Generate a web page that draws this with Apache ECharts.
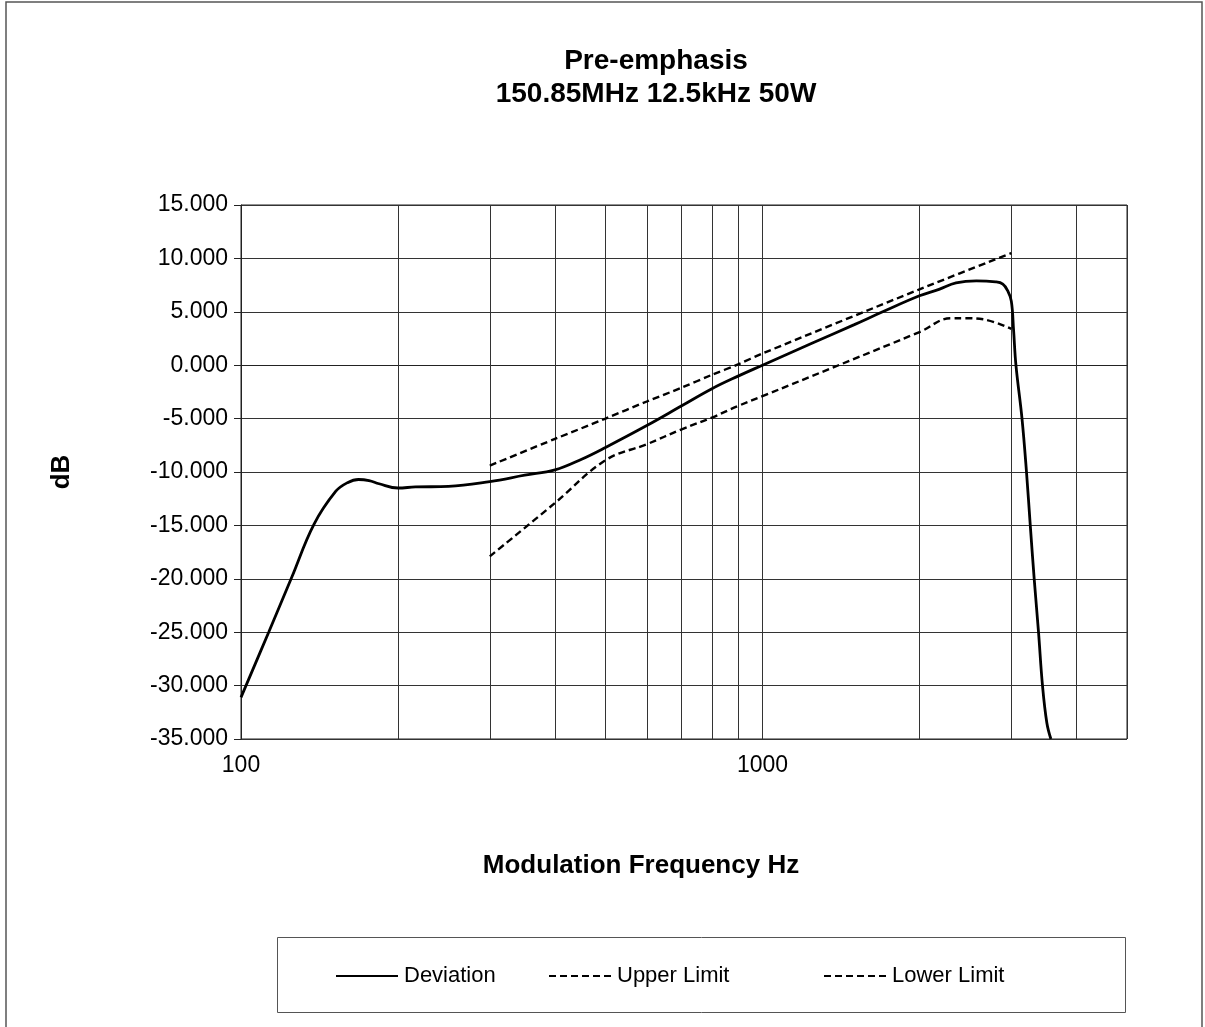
<!DOCTYPE html>
<html>
<head>
<meta charset="utf-8">
<script src="https://cdn.jsdelivr.net/npm/echarts@6/dist/echarts.min.js"></script>
<style>
html,body{margin:0;padding:0;background:#fff;}
#chart{width:1205px;height:1027px;}
</style>
</head>
<body>
<div id="chart"></div>
<script>
// ---- data ----
const titleLines = ['Pre-emphasis', '150.85MHz 12.5kHz 50W'];
const xName = 'Modulation Frequency Hz';
const yName = 'dB';
const seriesNames = ['Deviation', 'Upper Limit', 'Lower Limit'];

const deviationFreq = [100, 113, 125, 138, 152, 160, 168, 176, 184, 200, 216, 250, 300, 350, 400, 450, 500, 600, 700, 800, 900, 1000, 1250, 1500, 1700, 2000, 2180, 2350, 2570, 2800, 2890, 2950, 3000, 3030, 3062, 3145, 3208, 3262, 3319, 3383, 3443, 3510, 3573];
const deviationDb   = [-31.1, -25.0, -19.9, -14.9, -11.8, -11.0, -10.7, -10.8, -11.1, -11.5, -11.4, -11.35, -10.9, -10.3, -9.8, -8.8, -7.7, -5.65, -3.8, -2.2, -1.0, 0.0, 2.1, 3.8, 5.0, 6.5, 7.1, 7.7, 7.9, 7.8, 7.6, 7.0, 6.0, 3.3, 0.0, -5.0, -10.0, -15.0, -20.0, -25.0, -30.0, -33.5, -35.0];

const upperFreq = [300, 400, 500, 600, 700, 800, 900, 1000, 2000, 3000];
const upperDb   = [-9.4, -6.9, -5.0, -3.4, -2.1, -0.9, 0.1, 1.1, 7.1, 10.5];

const lowerFreq = [300, 400, 500, 600, 700, 800, 900, 1000, 2000, 2300, 2450, 2650, 3000];
const lowerDb   = [-17.9, -12.9, -8.9, -7.4, -6.0, -4.9, -3.8, -2.9, 3.1, 4.4, 4.4, 4.3, 3.4];

const xTickLabels = [100, 1000];
const xGridLines = [200, 300, 400, 500, 600, 700, 800, 900, 2000, 3000, 4000];
const yMin = -35, yMax = 15, yStep = 5;
const xMin = 100, xMax = 5000;

function pairs(xs, ys) { return xs.map((x, i) => [x, ys[i]]); }

const chart = echarts.init(document.getElementById('chart'));
const FONT = '"Liberation Sans", Arial, sans-serif';
const dashed = [7, 4];

function legendItem(name, left) {
  return {
    data: [name], left: left, top: 965, padding: 0,
    itemWidth: 62, itemHeight: 14, itemGap: 0,
    itemStyle: { opacity: 0, borderWidth: 0 },
    lineStyle: { width: 2 },
    textStyle: { fontFamily: FONT, fontSize: 22, color: '#000', padding: [0, 0, 0, 1] }
  };
}

chart.setOption({
  animation: false,
  backgroundColor: '#fff',
  textStyle: { fontFamily: FONT, color: '#000' },
  title: {
    text: titleLines.join('\n'),
    left: 656, textAlign: 'center',
    top: 45,
    padding: 0,
    textStyle: { fontFamily: FONT, fontSize: 28, fontWeight: 'bold', color: '#000', lineHeight: 33 }
  },
  graphic: [
    { type: 'rect', shape: { x: 6, y: 2, width: 1196, height: 1040 }, style: { fill: 'none', stroke: '#555', lineWidth: 1.5 }, silent: true, z: -1 },
    { type: 'rect', shape: { x: 277.5, y: 937.5, width: 848, height: 75 }, style: { fill: 'none', stroke: '#555', lineWidth: 1 }, silent: true, z: -1 }
  ],
  legend: [
    legendItem(seriesNames[0], 335),
    legendItem(seriesNames[1], 548),
    legendItem(seriesNames[2], 823)
  ],
  grid: {
    left: 241, top: 205, right: 78, bottom: 288,
    show: true, borderColor: '#222', borderWidth: 1, containLabel: false
  },
  xAxis: {
    type: 'log', logBase: 10, min: xMin, max: xMax,
    name: xName, nameLocation: 'middle', nameGap: 114,
    nameTextStyle: { fontFamily: FONT, fontSize: 26, fontWeight: 'bold', color: '#000', padding: [0, 86, 0, 0] },
    axisLine: { lineStyle: { color: '#222', width: 1 } },
    axisTick: { show: true, length: 6, inside: false, lineStyle: { color: '#222' } },
    axisLabel: {
      fontFamily: FONT, fontSize: 23, color: '#000', margin: 15,
      showMaxLabel: false,
      formatter: function (v) { const r = Math.round(v); return xTickLabels.indexOf(r) >= 0 ? String(r) : ''; }
    },
    splitLine: { show: true, lineStyle: { color: '#333', width: 1 } },
    minorTick: { show: false }, minorSplitLine: { show: false }
  },
  yAxis: {
    type: 'value', min: yMin, max: yMax, interval: yStep,
    name: yName, nameLocation: 'middle', nameGap: 166, nameRotate: 90,
    nameTextStyle: { fontFamily: FONT, fontSize: 26, fontWeight: 'bold', color: '#000' },
    axisLine: { show: true, lineStyle: { color: '#222', width: 1 } },
    axisTick: { show: true, length: 7, inside: false, lineStyle: { color: '#222' } },
    axisLabel: { fontFamily: FONT, fontSize: 23, color: '#000', margin: 13, formatter: v => v.toFixed(3) },
    splitLine: { show: true, lineStyle: { color: '#333', width: 1 } }
  },
  series: [
    {
      name: seriesNames[0], type: 'line', data: pairs(deviationFreq, deviationDb),
      symbol: 'none', smooth: 0.4, clip: true, z: 5,
      lineStyle: { color: '#000', width: 2.8, type: 'solid' }, itemStyle: { color: '#000' },
      markLine: {
        silent: true, symbol: ['none', 'none'], z: 1, animation: false,
        label: { show: false }, emphasis: { disabled: true },
        lineStyle: { color: '#333', width: 1, type: 'solid' },
        data: xGridLines.map(v => ({ xAxis: v }))
      }
    },
    {
      name: seriesNames[1], type: 'line', data: pairs(upperFreq, upperDb),
      symbol: 'none', smooth: 0.3, clip: true, z: 5,
      lineStyle: { color: '#000', width: 2.4, type: dashed }, itemStyle: { color: '#000' }
    },
    {
      name: seriesNames[2], type: 'line', data: pairs(lowerFreq, lowerDb),
      symbol: 'none', smooth: 0.4, clip: true, z: 5,
      lineStyle: { color: '#000', width: 2.4, type: dashed }, itemStyle: { color: '#000' }
    }
  ]
});
</script>
</body>
</html>
